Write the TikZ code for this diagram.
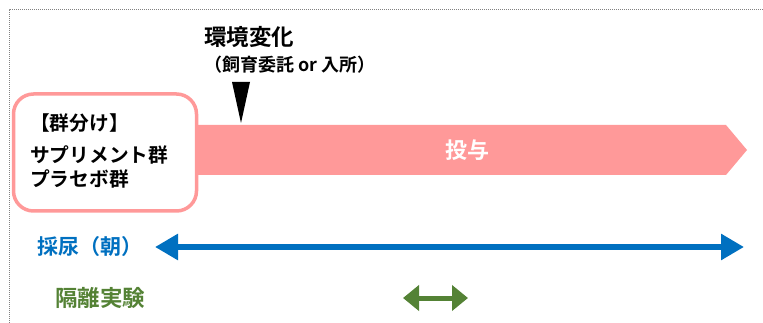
\documentclass[tikz,border=0pt]{standalone}
\usepackage{fontspec}
\setmainfont{Noto Sans CJK JP}[BoldFont={* Bold}]
\usetikzlibrary{arrows.meta,shapes.arrows}
\definecolor{pinkc}{HTML}{FF9999}
\definecolor{bluec}{HTML}{0070C0}
\definecolor{greenc}{HTML}{548235}
\tikzset{
  lbl/.style={font=\bfseries, inner sep=0pt},
}
\begin{document}
\begin{tikzpicture}[x=1pt,y=-1pt]
\useasboundingbox (0,0) rectangle (763,323);
% dotted frame
\draw[gray, densely dotted, line width=1pt] (9,323) -- (9,10) -- (763,10);
% pink band
\fill[pinkc] (190,125) -- (726,125) -- (747,150) -- (726,175) -- (190,175) -- cycle;
\node[lbl, white, font=\bfseries\fontsize{22}{22}\selectfont] (dose) at (467,150) {投与};
% group box
\node[draw=pinkc, line width=3.5pt, fill=white, rounded corners=20pt, minimum width=183pt, minimum height=117pt] (grp) at (105,152.5) {};
\node[lbl, anchor=west, font=\bfseries\fontsize{19.7}{19.7}\selectfont] (g1) at (30,123) {【群分け】};
\node[lbl, anchor=west, font=\bfseries\fontsize{19.7}{19.7}\selectfont] (g2) at (30,155) {サプリメント群};
\node[lbl, anchor=west, font=\bfseries\fontsize{19.7}{19.7}\selectfont] (g3) at (30,179) {プラセボ群};
% environment change
\node[lbl, anchor=west, font=\bfseries\fontsize{22.5}{22.5}\selectfont] (env) at (204,37) {環境変化};
\node[lbl, anchor=west, font=\bfseries\fontsize{18}{18}\selectfont] (envs) at (204,65) {（飼育委託 or 入所）};
\fill (232,82) -- (250,82) -- (241,123) -- cycle;
% urine
\node[lbl, anchor=west, text=bluec, font=\bfseries\fontsize{21}{21}\selectfont] (urine) at (37,247) {採尿（朝）};
\coordinate (uL) at (155,247);
\coordinate (uR) at (744,247);
\draw[bluec, line width=6pt, {Triangle[length=23pt,width=25pt]}-{Triangle[length=23pt,width=25pt]}] (uL) -- (uR);
% isolation
\node[lbl, anchor=west, text=greenc, font=\bfseries\fontsize{22.5}{22.5}\selectfont] (iso) at (55,298) {隔離実験};
\coordinate (iL) at (403,298);
\coordinate (iR) at (468,298);
\draw[greenc, line width=5pt, {Triangle[length=16pt,width=25pt]}-{Triangle[length=16pt,width=25pt]}] (iL) -- (iR);
\end{tikzpicture}
\end{document}
